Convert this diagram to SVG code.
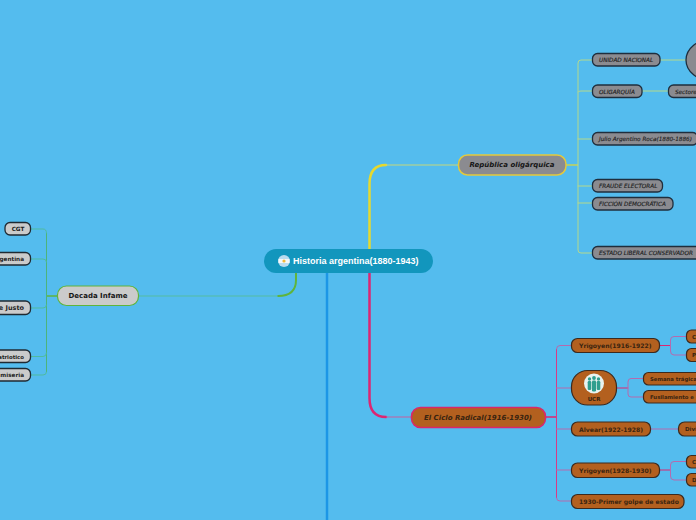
<svg xmlns="http://www.w3.org/2000/svg" width="696" height="520" viewBox="0 0 696 520">
<style>
text{font-family:"DejaVu Sans","Liberation Sans",sans-serif;font-size:6.1px;font-weight:bold;dominant-baseline:central}
.c{fill:none;stroke-linecap:round}
.y{stroke:#b4d98c;stroke-width:1}
.m{stroke:#b56aae;stroke-width:1}
.g{stroke:#4fbb9f;stroke-width:1}
.gr rect{fill:#8b8b90;stroke:#1f2e3d;stroke-width:1.3}
.gr text{font-style:italic;font-weight:normal;fill:#1c1c1c;font-size:5.7px;stroke:#1c1c1c;stroke-width:.12}
.br rect{fill:#b3601f;stroke:#3c2a1e;stroke-width:1.2}
.br text{fill:#3a2410}
.lg rect{fill:#cbcbcb;stroke:#1f2a33;stroke-width:1.3}
.lg text{fill:#1e1e1e;font-size:5.7px}
</style>
<rect width="696" height="520" fill="#54bcee"/>
<g id="connectors">
<path class="c" d="M327 272V520" stroke="#1c96e6" stroke-width="2.500"/>
<path class="c" d="M369.500 250V184Q369.500 165 386 165" stroke="#e6d92e" stroke-width="2.500"/>
<path d="M386 165H458" fill="none" stroke="#c3d77c" stroke-width="1"/>
<path class="c" d="M369.500 272V398Q369.500 417 386 417" stroke="#dc2672" stroke-width="2.500"/>
<path d="M386 417H411" fill="none" stroke="#c65fa0" stroke-width="1"/>
<path class="c" d="M296 272V280Q296 296 278 296" stroke="#5fb43c" stroke-width="2"/>
<path d="M139 296H278" fill="none" stroke="#54bda0" stroke-width="1"/>
<path d="M566 165H578" fill="none" stroke="#e6d92e" stroke-width="1.200"/>
<path class="c y" d="M592 60H581Q578 60 578 63V250Q578 253 581 253H592M578 92Q578 91 581 91H592M578 139H592M578 186H592M578 203H592"/>
<path class="c y" d="M660 60H686M642 91H668"/>
<path d="M546 417H557" fill="none" stroke="#dc2672" stroke-width="1.500"/>
<path d="M556.500 349V498" fill="none" stroke="#d93a86" stroke-width="1"/>
<path class="c m" d="M571 345.500H560Q556.500 345.500 556.500 349M556.500 388H571M556.500 429H571M556.500 470H571M556.500 498Q556.500 501 560 501H571"/>
<path d="M660 345.500H670M617 388H628M660 470H670" fill="none" stroke="#dc2672" stroke-width="1"/>
<path class="c m" d="M670.500 345.500V340Q670.500 336.500 674 336.500H686M670.500 345.500V351Q670.500 355 674 355H686"/>
<path class="c m" d="M628 388V382Q628 378.500 631 378.500H643M628 388V394Q628 397 631 397H643"/>
<path class="c m" d="M651 429H678M670.500 470V465Q670.500 461.500 674 461.500H686M670.500 470V476Q670.500 480 674 480H686"/>
<path d="M57 296H46.500" fill="none" stroke="#5fb43c" stroke-width="1.500"/>
<path d="M46.500 233V372" fill="none" stroke="#4db47a" stroke-width="1"/>
<path class="c g" d="M31 229H43Q46.500 229 46.500 233M46.500 372Q46.500 375 43 375H31M31 259H43Q46.500 259 46.500 262M31 308H43Q46.500 308 46.500 305M31 356.500H43Q46.500 356.500 46.500 353"/>
</g>
<g id="root">
<rect x="264" y="249" width="169" height="24" rx="12" fill="#1296bd"/>
<circle cx="284" cy="261" r="6" fill="#b9dcf0"/>
<rect x="278.500" y="259" width="11" height="4" fill="#f4f8fa"/>
<circle cx="284" cy="261" r="1.600" fill="#f0b93a"/>
<text x="293" y="261" style="font-family:'Liberation Sans',Arial,sans-serif;font-size:9px;fill:#fff">Historia argentina(1880-1943)</text>
</g>
<g id="republica"><rect x="458.500" y="155" width="107.500" height="20" rx="9" fill="#8b8b90" stroke="#e3c93c" stroke-width="1.500"/><text x="512" y="165" text-anchor="middle" style="font-style:italic;font-size:7px;fill:#161616">República oligárquica</text></g>
<g id="ciclo"><rect x="411.500" y="407.500" width="134" height="20" rx="9" fill="#b3601f" stroke="#d9276b" stroke-width="1.500"/><text x="478" y="417.500" text-anchor="middle" style="font-style:italic;font-size:7px;fill:#3a2410">El Ciclo Radical(1916-1930)</text></g>
<g id="decada"><rect x="57.500" y="286" width="81" height="19.500" rx="9" fill="#cbcbcb" stroke="#5fb43c" stroke-width="1.200"/><text x="98" y="296" text-anchor="middle" style="font-size:7px;fill:#161616">Decada Infame</text></g>
<g id="circle-node"><ellipse cx="712" cy="60" rx="26" ry="21" fill="#8b8b90" stroke="#1f2e3d" stroke-width="1.300"/></g>
<g id="unidad" class="gr"><rect x="592.500" y="53.500" width="67.500" height="12.500" rx="5"/><text x="599" y="60">UNIDAD NACIONAL</text></g>
<g id="oligarquia" class="gr"><rect x="592.500" y="85" width="49.500" height="12.500" rx="5"/><text x="599" y="91.500">OLIGARQUÍA</text></g>
<g id="sectores" class="gr"><rect x="668.500" y="85" width="50" height="12.500" rx="5"/><text x="675" y="91.500">Sectores</text></g>
<g id="roca" class="gr"><rect x="592.500" y="132.500" width="105" height="12.500" rx="5"/><text x="599" y="139">Julio Argentino Roca(1880-1886)</text></g>
<g id="fraude" class="gr"><rect x="592.500" y="179.500" width="70" height="12.500" rx="5"/><text x="599" y="186">FRAUDE ELECTORAL</text></g>
<g id="ficcion" class="gr"><rect x="592.500" y="197.500" width="80.500" height="12.500" rx="5"/><text x="599" y="204">FICCIÓN DEMOCRÁTICA</text></g>
<g id="estado" class="gr"><rect x="592.500" y="246.500" width="110" height="12.500" rx="5"/><text x="599" y="253">ESTADO LIBERAL CONSERVADOR</text></g>
<g id="yrigoyen1" class="br"><rect x="571.500" y="338.500" width="88" height="14" rx="6"/><text x="579" y="345.500">Yrigoyen(1916-1922)</text></g>
<g id="ucr" class="br"><rect x="571.500" y="370.500" width="45" height="34.500" rx="16"/><circle cx="594" cy="383.500" r="10" fill="#e8f3f0"/><g fill="#2f9e8e"><circle cx="589.500" cy="379" r="1.700"/><circle cx="594" cy="378" r="1.900"/><circle cx="598.500" cy="379" r="1.700"/><rect x="587.700" y="381" width="3.600" height="9" rx="1.200" style="fill:#2f9e8e;stroke:none"/><rect x="592" y="380.500" width="4" height="11" rx="1.200" style="fill:#2f9e8e;stroke:none"/><rect x="596.700" y="381" width="3.600" height="9" rx="1.200" style="fill:#2f9e8e;stroke:none"/></g><text x="594" y="399" text-anchor="middle" style="font-size:5.500px">UCR</text></g>
<g id="c1" class="br"><rect x="686.500" y="330" width="30" height="13" rx="5"/><text x="692" y="336.500" style="font-size:5.500px">C</text></g>
<g id="p1" class="br"><rect x="686.500" y="348.500" width="30" height="13" rx="5"/><text x="692" y="355" style="font-size:5.500px">P</text></g>
<g id="semana" class="br"><rect x="643.500" y="372.500" width="60" height="12.500" rx="5"/><text x="650" y="379" style="font-size:5.300px">Semana trágica</text></g>
<g id="fusilamiento" class="br"><rect x="643.500" y="390.500" width="60" height="12.500" rx="5"/><text x="650" y="397" style="font-size:5.300px">Fusilamiento e</text></g>
<g id="alvear" class="br"><rect x="571.500" y="422" width="79" height="14" rx="6"/><text x="579" y="429">Alvear(1922-1928)</text></g>
<g id="divi" class="br"><rect x="678.500" y="422" width="40" height="14" rx="6"/><text x="685" y="429" style="font-size:5.500px">Divi</text></g>
<g id="yrigoyen2" class="br"><rect x="571.500" y="463" width="88" height="14.500" rx="6"/><text x="579" y="470">Yrigoyen(1928-1930)</text></g>
<g id="c2" class="br"><rect x="686.500" y="455.500" width="30" height="12.500" rx="5"/><text x="692" y="462" style="font-size:5.500px">C</text></g>
<g id="d2" class="br"><rect x="686.500" y="473.500" width="30" height="12.500" rx="5"/><text x="692" y="480" style="font-size:5.500px">D</text></g>
<g id="golpe" class="br"><rect x="571.500" y="494.500" width="112.500" height="14" rx="6"/><text x="579" y="501.500">1930-Primer golpe de estado</text></g>
<g id="cgt" class="lg"><rect x="5" y="222.500" width="25.500" height="12.500" rx="5"/><text x="18" y="229" text-anchor="middle">CGT</text></g>
<g id="argentina" class="lg"><rect x="-40" y="252.500" width="70.500" height="12.500" rx="5"/><text x="24" y="259" text-anchor="end">rgentina</text></g>
<g id="justo" class="lg"><rect x="-40" y="301" width="70.500" height="13.500" rx="5"/><text x="24" y="307.500" text-anchor="end" style="font-size:6.500px">e Justo</text></g>
<g id="patriotico" class="lg"><rect x="-40" y="350" width="70.500" height="12.500" rx="5"/><text x="24" y="356.500" text-anchor="end" style="font-size:5.400px">atriotico</text></g>
<g id="miseria" class="lg"><rect x="-40" y="368.500" width="70.500" height="12.500" rx="5"/><text x="24" y="375" text-anchor="end">miseria</text></g>
</svg>
